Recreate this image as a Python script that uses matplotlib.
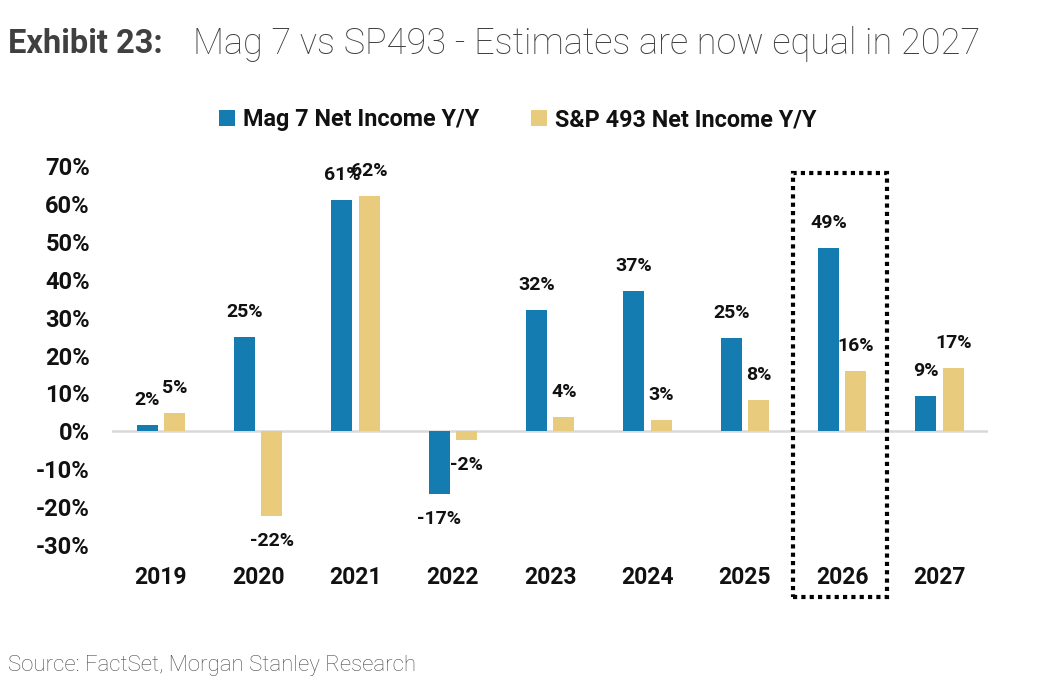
import matplotlib
matplotlib.use("Agg")
import matplotlib.pyplot as plt
from matplotlib.patches import Rectangle
import numpy as np

years = ["2019", "2020", "2021", "2022", "2023", "2024", "2025", "2026", "2027"]
mag7 = [1.7, 25, 61, -16.6, 32, 37, 24.7, 48.5, 9.2]
sp493 = [4.9, -22.3, 62, -2.4, 3.7, 3.0, 8.2, 16.0, 16.6]
mag7_labels = ["2%", "25%", "61%", "-17%", "32%", "37%", "25%", "49%", "9%"]
sp493_labels = ["5%", "-22%", "62%", "-2%", "4%", "3%", "8%", "16%", "17%"]
yticks = [-30, -20, -10, 0, 10, 20, 30, 40, 50, 60, 70]
highlight = "2026"

BLUE = "#147CB1"
GOLD = "#E9CB7E"

plt.rcParams['font.family'] = ['Roboto', 'DejaVu Sans']

fig = plt.figure(figsize=(10.48, 7), dpi=100)
ax = fig.add_axes([0.107, 0.2214, 0.836, 0.5414])

x = np.arange(len(years))
w = 0.215
off = 0.14
b1 = ax.bar(x - off, mag7, w, color=BLUE, label="Mag 7 Net Income Y/Y")
b2 = ax.bar(x + off, sp493, w, color=GOLD, label="S&P 493 Net Income Y/Y")

for bars, labels in ((b1, mag7_labels), (b2, sp493_labels)):
    for rect, lab in zip(bars, labels):
        h = rect.get_height()
        cx = rect.get_x() + rect.get_width() / 2
        dy = 18 if h >= 0 else -18
        ax.annotate(lab, (cx, h), xytext=(0, dy), textcoords="offset points",
                    ha="center", va="center", fontsize=14, fontweight="bold",
                    color="#111111")

ax.set_xlim(-0.5, len(years) - 0.5)
ax.set_ylim(-30, 70)
ax.set_yticks(yticks)
ax.set_yticklabels([f"{t}%" for t in yticks])
ax.set_xticks(x)
ax.set_xticklabels(years)
ax.tick_params(axis="y", length=0, pad=16, labelsize=17)
ax.tick_params(axis="x", length=0, pad=15, labelsize=16.5)
for lab in ax.get_xticklabels() + ax.get_yticklabels():
    lab.set_fontweight("bold")
    lab.set_color("#111111")
for s in ax.spines.values():
    s.set_visible(False)
ax.axhline(0, color="#D9D9D9", lw=1.8, zorder=0)

# dotted box around the highlighted year
hi = years.index(highlight)
box = Rectangle((hi - 0.505, -43.8), 0.965, 112, fill=False, edgecolor="black",
                linewidth=3, linestyle=(0, (1, 1)), clip_on=False)
ax.add_patch(box)

leg = fig.legend(loc="center", bbox_to_anchor=(0.494, 0.829), ncol=2, frameon=False,
                 fontsize=16.8, handlelength=0.7, handleheight=0.7, handletextpad=0.35,
                 columnspacing=2.2)
for t in leg.get_texts():
    t.set_fontweight("bold")
    t.set_color("#111111")

fig.text(0.008, 0.937, "Exhibit 23:", fontsize=23.5, fontweight="bold", color="#404040",
         va="center", ha="left")
fig.text(0.184, 0.937, "Mag 7 vs SP493 - Estimates are now equal in 2027", fontsize=26,
         fontweight="light", color="#404040", va="center", ha="left")
fig.text(0.008, 0.049, "Source: FactSet, Morgan Stanley Research", fontsize=16,
         fontweight="light", color="#4D4D4D", va="center", ha="left")

fig.savefig("out.png", dpi=100, facecolor="white")
